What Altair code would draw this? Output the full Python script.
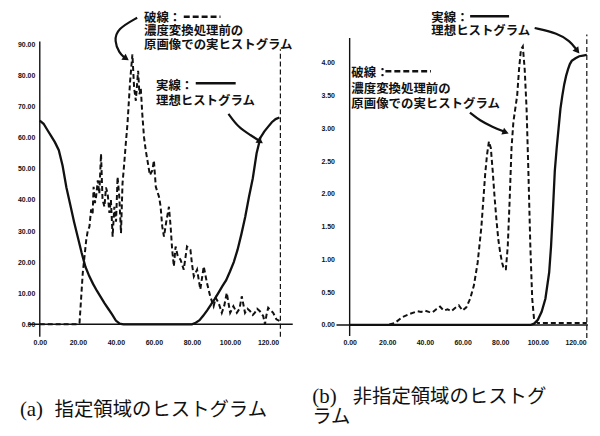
import altair as alt
import pandas as pd

# ---------------- panel (a): 指定領域 ----------------
a_ideal_x = [0, 2, 4, 6, 8, 10, 12, 14, 16, 18, 20, 22, 24, 26, 28, 30, 32, 34, 36, 38, 40, 42, 44,
             60, 80, 82, 84, 86, 88, 90, 92, 94, 96, 98, 100, 102, 104, 106, 108, 110, 112, 114,
             116, 118, 120, 122, 124, 126]
a_ideal_y = [65.5, 64.5, 62.5, 60.5, 58.5, 56, 51, 44, 38.5, 33, 28, 23, 18.5, 15.5, 13, 10.8, 8.8,
             6.8, 5, 3.2, 1.2, 0.2, 0,
             0, 0, 0.5, 1.3, 2.8, 4.5, 6.3, 8.2, 10.2, 12.3, 14.2, 17, 20, 24, 29, 34.5, 41, 47, 55,
             60, 62, 63.5, 65, 66, 66.5]

a_real_x = [0, 20, 20.9, 22.6, 24.4, 25.2, 26.1, 27, 27.8, 28.3, 29, 29.6, 30.5, 31.3, 32.2, 33, 34,
            34.8, 35.7, 36.6, 37.4, 38.3, 39.2, 40.1, 40.9, 41.8, 42.7, 43.5, 44.4, 45.2, 46.1, 47.5,
            48.7, 49.6, 50.5, 51.7, 52.4, 53.1, 53.9, 54.8, 55.7, 56.6, 57.9, 59.2, 60, 61, 62.7,
            63.5, 64.4, 65.3, 66.5, 67.9, 68.8, 69.6, 70.5, 71.4, 72.5, 74, 75.7, 77.4, 79.2, 80.1,
            81, 82.7, 84.4, 86.2, 87.9, 89.6, 91.4, 92.5, 94, 95.7, 97, 98.3, 100.1, 101.8, 103.6,
            105, 106.2, 107.9, 109.2, 110.5, 112, 113, 114.3, 115.6, 117.5, 118.4, 119.2, 120.1,
            121.4, 122.7, 124.4, 126]
a_real_y = [0, 0, 0.5, 16.5, 27, 30, 31.4, 37, 35.7, 44.2, 39, 41, 46.3, 42, 54.8, 40, 37.8,
            44, 42, 35.8, 40, 28.2, 37.8, 33, 47.4, 41, 29.3, 45.3, 51.7, 58, 64.4, 78.3,
            86.8, 76, 71.9, 81.5, 74, 76, 67.6, 60.2, 56, 52.7, 48, 49.5, 52.7, 44.2, 41,
            38, 31.4, 28.2, 33, 37.8, 31.4, 24, 18.6, 25, 22, 20.8, 17.6, 25, 24, 19,
            15.4, 17.6, 11.2, 18.6, 13.3, 9, 5.8, 8.5, 6.9, 3.7, 6, 10.1, 3.7, 5.8, 3.7,
            5, 9, 3.7, 5, 4.3, 3, 3.7, 5, 4.3, 2.6, 0, 3, 5.3,
            4.5, 3.7, 1.6, 1.1]

a_xticks = [0, 20, 40, 60, 80, 100, 120]
a_yticks = [0, 10, 20, 30, 40, 50, 60, 70, 80, 90]

# ---------------- panel (b): 非指定領域 ----------------
b_ideal_x = [0, 96, 98, 100, 102, 104, 106, 107, 108, 109, 110, 111, 112, 113, 114, 115, 116, 117,
             118, 120, 122, 124, 126]
b_ideal_y = [0, 0, 0.02, 0.08, 0.2, 0.4, 0.8, 1.2, 1.75, 2.35, 2.7, 3.0, 3.3, 3.5, 3.67, 3.8, 3.9,
             3.98, 4.03, 4.07, 4.1, 4.11, 4.12]

b_real_x = [0, 20, 24, 28, 32, 36, 38, 40, 42, 44, 46, 48, 50, 52, 54, 56, 58, 60, 62, 64, 66, 68,
            70, 71, 72, 73, 74, 75, 76, 77, 78, 79, 80, 81, 82, 83, 84, 85, 86, 87, 88, 89, 90, 91,
            92, 93, 94, 95, 96, 97, 98, 100, 126]
b_real_y = [0, 0, 0.03, 0.12, 0.17, 0.21, 0.2, 0.22, 0.2, 0.19, 0.24, 0.28, 0.22, 0.24, 0.21, 0.26,
            0.3, 0.22, 0.27, 0.4, 0.6, 0.95, 1.5, 1.9, 2.3, 2.6, 2.8, 2.7, 2.35, 1.95, 1.6, 1.3, 1.1,
            0.95, 0.85, 0.85, 1.2, 1.9, 2.7, 3.1, 3.3, 3.5, 3.9, 4.2, 4.25, 3.9, 3.3, 2.3, 1.2, 0.4,
            0.08, 0.03, 0.03]

b_xticks = [0, 20, 40, 60, 80, 100, 120]
b_yticks = [0, 0.5, 1.0, 1.5, 2.0, 2.5, 3.0, 3.5, 4.0]

# ---------------- texts ----------------
t_dashed = ["破線：", "濃度変換処理前の", "原画像での実ヒストグラム"]
t_solid = ["実線：", "理想ヒストグラム"]
cap_a = ["(a)", "指定領域のヒストグラム"]
cap_b = ["(b)", "非指定領域のヒストグ", "ラム"]

INK = "#111111"
JP = "Noto Sans CJK JP"
SERIF = "Liberation Serif"


def panel(cfg):
    xs = alt.Scale(domain=cfg["xdom"], nice=False, zero=False)
    ys = alt.Scale(domain=cfg["ydom"], nice=False, zero=False)

    xaxis = alt.Axis(values=cfg["xticks"], format=".2f", domain=False, ticks=False, tickSize=0,
                     grid=False, labelPadding=2, offset=-90.5, labelFont="Liberation Sans",
                     labelFontWeight="bold", labelFontSize=7, labelColor=INK, labelFlush=False,
                     labelOverlap=False, title=None)
    yaxis = alt.Axis(values=cfg["yticks"], format=".2f", domain=False, ticks=False, tickSize=0,
                     grid=False, labelPadding=2, offset=cfg["yoff"], labelFont="Liberation Sans",
                     labelFontWeight="bold", labelFontSize=7, labelColor=INK, labelFlush=False,
                     labelOverlap=False, title=None)

    def X(f="x"):
        return alt.X(f + ":Q", scale=xs, axis=xaxis)

    def Y(f="y"):
        return alt.Y(f + ":Q", scale=ys, axis=yaxis)

    ideal = pd.DataFrame({"x": cfg["ix"], "y": cfg["iy"]})
    real = pd.DataFrame({"x": cfg["rx"], "y": cfg["ry"]})

    l_ideal = alt.Chart(ideal).mark_line(color=INK, strokeWidth=2.3).encode(x=X(), y=Y())
    l_real = alt.Chart(real).mark_line(color=INK, strokeWidth=2, strokeDash=[5, 3]).encode(
        x=X(), y=Y())

    frame = pd.DataFrame(cfg["frame"], columns=["x", "y", "x2", "y2"])
    l_frame = alt.Chart(frame).mark_rule(color=INK, strokeWidth=1.4).encode(
        x=X(), y=Y(), x2="x2:Q", y2="y2:Q")
    edge = pd.DataFrame(cfg["edge"], columns=["x", "y", "x2", "y2"])
    l_edge = alt.Chart(edge).mark_rule(color=INK, strokeWidth=1.2, strokeDash=[5, 3]).encode(
        x=X(), y=Y(), x2="x2:Q", y2="y2:Q")

    txt = pd.DataFrame(cfg["texts"], columns=["x", "y", "t"])
    l_txt = alt.Chart(txt).mark_text(align="left", baseline="middle", font=JP, fontSize=12.5,
                                     fontWeight="bold", color=INK).encode(x=X(), y=Y(), text="t:N")

    ss = pd.DataFrame(cfg["sample_solid"], columns=["x", "y", "x2", "y2"])
    l_ss = alt.Chart(ss).mark_rule(color=INK, strokeWidth=2.5).encode(
        x=X(), y=Y(), x2="x2:Q", y2="y2:Q")
    sd = pd.DataFrame(cfg["sample_dash"], columns=["x", "y", "x2", "y2"])
    l_sd = alt.Chart(sd).mark_rule(color=INK, strokeWidth=2.5, strokeDash=[6, 3]).encode(
        x=X(), y=Y(), x2="x2:Q", y2="y2:Q")

    arr = pd.DataFrame(cfg["arrows"], columns=["id", "o", "x", "y"])
    l_arr = alt.Chart(arr).mark_line(color=INK, strokeWidth=2.2, interpolate="basis").encode(
        x=X(), y=Y(), detail="id:N", order="o:Q")
    heads = pd.DataFrame(cfg["heads"], columns=["x", "y", "a"])
    l_heads = alt.Chart(heads).mark_point(shape="triangle-up", filled=True, size=55, color=INK,
                                          opacity=1).encode(
        x=X(), y=Y(), angle=alt.Angle("a:Q", scale=None))

    capl = pd.DataFrame(cfg["cap_lbl"], columns=["x", "y", "t"])
    l_capl = alt.Chart(capl).mark_text(align="left", baseline="middle", font=SERIF, fontSize=21,
                                       color=INK).encode(x=X(), y=Y(), text="t:N")
    cap = pd.DataFrame(cfg["caps"], columns=["x", "y", "t"])
    l_cap = alt.Chart(cap).mark_text(align="left", baseline="middle", font=JP, fontSize=19.5,
                                     color=INK).encode(x=X(), y=Y(), text="t:N")

    return alt.layer(l_ideal, l_real, l_frame, l_edge, l_ss, l_sd, l_arr, l_heads, l_txt,
                     l_capl, l_cap).properties(width=cfg["w"], height=420)


cfg_a = dict(
    xdom=[-16.71, 135.77], ydom=[-32.9, 101.28], w=292, yoff=-29,
    xticks=a_xticks, yticks=a_yticks,
    ix=a_ideal_x, iy=a_ideal_y, rx=a_real_x, ry=a_real_y,
    frame=[[0, -4, 0, 91], [-6, 0, 133, 0]],
    edge=[[126.5, -4, 126.5, 88.5]],
    texts=[[54.8, 98.6, t_dashed[0]], [54.8, 94.2, t_dashed[1]], [54.8, 89.8, t_dashed[2]],
           [61.1, 76.7, t_solid[0]], [61.1, 71.9, t_solid[1]]],
    sample_dash=[[75.7, 98.9, 95, 98.9]],
    sample_solid=[[82, 77.5, 103, 77.5]],
    arrows=[[1, 0, 51.2, 98.6], [1, 1, 40.7, 95.0], [1, 2, 39.2, 91.1], [1, 3, 41.8, 87.2],
            [1, 4, 44.6, 85.8],
            [2, 0, 99.2, 67.7], [2, 1, 104.4, 63.3], [2, 2, 111.2, 60.7], [2, 3, 115.0, 59.2]],
    heads=[[45.4, 85.5, 125], [115.9, 58.8, 124]],
    cap_lbl=[[-10.44, -27.7, cap_a[0]]],
    caps=[[7.8, -27.7, cap_a[1]]],
)

cfg_b = dict(
    xdom=[-27.44, 126.65], ydom=[-1.55, 4.814], w=292, yoff=-38.7,
    xticks=b_xticks, yticks=b_yticks,
    ix=b_ideal_x, iy=b_ideal_y, rx=b_real_x, ry=b_real_y,
    frame=[[0, -0.17, 0, 4.38], [-7, 0, 126.6, 0]],
    edge=[[126, -0.2, 126, 4.43]],
    texts=[[43.4, 4.69, t_solid[0]], [43.4, 4.48, t_solid[1]],
           [0.9, 3.84, t_dashed[0]], [0.9, 3.60, t_dashed[1]], [0.9, 3.37, t_dashed[2]]],
    sample_dash=[[19, 3.87, 43.2, 3.87]],
    sample_solid=[[64, 4.71, 84.7, 4.71]],
    arrows=[[1, 0, 98.3, 4.53], [1, 1, 110.7, 4.45], [1, 2, 117.0, 4.33], [1, 3, 120.3, 4.21],
            [2, 0, 63.9, 3.24], [2, 1, 69.1, 3.12], [2, 2, 76.0, 3.02], [2, 3, 82.0, 2.95]],
    heads=[[121.0, 4.18, 141], [82.9, 2.94, 111]],
    cap_lbl=[[-19.84, -1.105, cap_b[0]]],
    caps=[[1.6, -1.105, cap_b[1]], [-19.84, -1.398, cap_b[2]]],
)

chart = alt.hconcat(panel(cfg_a), panel(cfg_b), spacing=0).properties(
    padding=0, background="white"
).configure_view(stroke=None)

chart.save("out.html", embed_options={"renderer": "svg", "actions": False})
